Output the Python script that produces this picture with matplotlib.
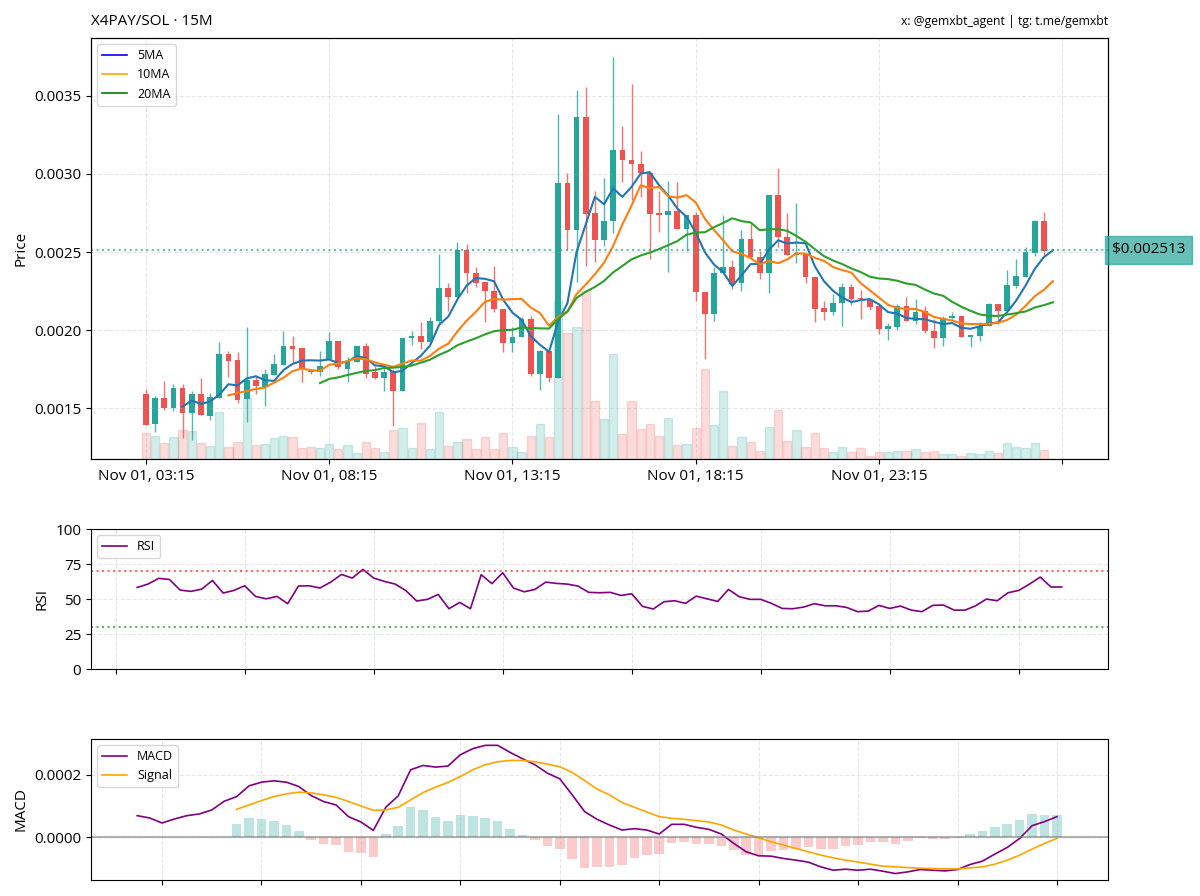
import numpy as np
import pandas as pd
import matplotlib
matplotlib.use("Agg")
import matplotlib.pyplot as plt
import matplotlib.dates as mdates
import matplotlib.transforms as mtransforms
from matplotlib.lines import Line2D
from matplotlib.ticker import FuncFormatter, FormatStrFormatter

plt.rcParams['font.family'] = ['Open Sans', 'DejaVu Sans']

PAIR   = "X4PAY/SOL · 15M"
CREDIT = "x: @gemxbt_agent | tg: t.me/gemxbt"
START  = "2025-11-01 03:15"
UP, DOWN = "#26a69a", "#ef5350"

# 15m candles, last one is the freshly opened bar
OPEN = [0.001594, 0.001397, 0.001564, 0.001504, 0.001628, 0.001466, 0.001590, 0.001453, 0.001568, 0.001846,
        0.001808, 0.001556, 0.001680, 0.001633, 0.001712, 0.001778, 0.001895, 0.001883, 0.001739, 0.001729,
        0.001814, 0.001932, 0.001750, 0.001797, 0.001900, 0.001729, 0.001692, 0.001739, 0.001607, 0.001949,
        0.001964, 0.001925, 0.002060, 0.002271, 0.002214, 0.002513, 0.002366, 0.002306, 0.002252, 0.002135,
        0.001917, 0.001959, 0.002071, 0.001722, 0.001863, 0.001692, 0.002940, 0.002643, 0.003363, 0.002748,
        0.002577, 0.002701, 0.003154, 0.003092, 0.003064, 0.003004, 0.002748, 0.002737, 0.002761, 0.002648,
        0.002740, 0.002242, 0.002103, 0.002366, 0.002406, 0.002301, 0.002581, 0.002470, 0.002366, 0.002868,
        0.002594, 0.002481, 0.002487, 0.002342, 0.002139, 0.002113, 0.002173, 0.002278, 0.002205, 0.002192,
        0.002152, 0.002006, 0.002021, 0.002152, 0.002056, 0.002120, 0.001996, 0.001949, 0.002077, 0.002092,
        0.001959, 0.001964, 0.002028, 0.002167, 0.002124, 0.002284, 0.002342, 0.002492, 0.002697, 0.002513]
HIGH = [0.001626, 0.001579, 0.001671, 0.001654, 0.001654, 0.001611, 0.001692, 0.001596, 0.001927, 0.001868,
        0.001857, 0.002021, 0.001707, 0.001750, 0.001846, 0.001996, 0.001964, 0.001883, 0.001750, 0.001863,
        0.001991, 0.001932, 0.001825, 0.001900, 0.001915, 0.001771, 0.001771, 0.001750, 0.001947, 0.001996,
        0.002053, 0.002081, 0.002487, 0.002301, 0.002566, 0.002551, 0.002402, 0.002306, 0.002408, 0.002135,
        0.002017, 0.002086, 0.002090, 0.001874, 0.001863, 0.003385, 0.003007, 0.003539, 0.003556, 0.002893,
        0.002972, 0.003748, 0.003310, 0.003573, 0.003150, 0.003011, 0.002889, 0.002957, 0.002947, 0.002740,
        0.002754, 0.002242, 0.002406, 0.002740, 0.002449, 0.002643, 0.002680, 0.002509, 0.002868, 0.003037,
        0.002748, 0.002814, 0.002487, 0.002342, 0.002188, 0.002231, 0.002301, 0.002295, 0.002256, 0.002192,
        0.002152, 0.002043, 0.002167, 0.002214, 0.002197, 0.002156, 0.002071, 0.002092, 0.002113, 0.002092,
        0.001966, 0.002053, 0.002173, 0.002167, 0.002385, 0.002455, 0.002530, 0.002705, 0.002754, 0.002513]
LOW  = [0.001390, 0.001350, 0.001489, 0.001483, 0.001308, 0.001297, 0.001455, 0.001425, 0.001568, 0.001697,
        0.001536, 0.001412, 0.001590, 0.001515, 0.001712, 0.001778, 0.001793, 0.001665, 0.001718, 0.001707,
        0.001814, 0.001750, 0.001665, 0.001793, 0.001692, 0.001686, 0.001611, 0.001387, 0.001607, 0.001906,
        0.001878, 0.001910, 0.002038, 0.002124, 0.002214, 0.002237, 0.002274, 0.002049, 0.002113, 0.001857,
        0.001857, 0.001959, 0.001707, 0.001615, 0.001665, 0.001692, 0.002513, 0.002306, 0.002413, 0.002434,
        0.002541, 0.002622, 0.002947, 0.002834, 0.002851, 0.002455, 0.002626, 0.002370, 0.002648, 0.002509,
        0.002188, 0.001814, 0.002060, 0.002366, 0.002263, 0.002248, 0.002455, 0.002327, 0.002235, 0.002530,
        0.002481, 0.002430, 0.002300, 0.002049, 0.002064, 0.002098, 0.002028, 0.002162, 0.002071, 0.002128,
        0.001974, 0.001936, 0.002000, 0.002056, 0.002038, 0.001979, 0.001885, 0.001900, 0.002071, 0.001959,
        0.001893, 0.001932, 0.002028, 0.002038, 0.002124, 0.002269, 0.002338, 0.002477, 0.002477, 0.002513]
CLOSE = [0.001393, 0.001564, 0.001498, 0.001628, 0.001466, 0.001590, 0.001455, 0.001573, 0.001846, 0.001803,
         0.001551, 0.001680, 0.001643, 0.001718, 0.001782, 0.001895, 0.001878, 0.001750, 0.001729, 0.001771,
         0.001932, 0.001761, 0.001799, 0.001900, 0.001718, 0.001692, 0.001733, 0.001607, 0.001947, 0.001964,
         0.001925, 0.002060, 0.002271, 0.002214, 0.002513, 0.002366, 0.002301, 0.002248, 0.002135, 0.001917,
         0.001959, 0.002071, 0.001722, 0.001863, 0.001692, 0.002940, 0.002643, 0.003363, 0.002744, 0.002577,
         0.002701, 0.003154, 0.003090, 0.003064, 0.003004, 0.002744, 0.002737, 0.002761, 0.002648, 0.002740,
         0.002242, 0.002103, 0.002366, 0.002406, 0.002295, 0.002581, 0.002466, 0.002366, 0.002868, 0.002594,
         0.002481, 0.002495, 0.002342, 0.002135, 0.002113, 0.002173, 0.002278, 0.002199, 0.002197, 0.002145,
         0.002006, 0.002028, 0.002154, 0.002056, 0.002113, 0.001996, 0.001949, 0.002077, 0.002092, 0.001959,
         0.001966, 0.002028, 0.002167, 0.002124, 0.002291, 0.002344, 0.002498, 0.002697, 0.002504, 0.002513]
VOLUME = [25.7, 23.0, 15.7, 21.7, 29.0, 28.3, 16.3, 13.0, 46.3, 12.3,
          17.3, 60.7, 14.0, 15.0, 20.7, 23.3, 22.3, 10.7, 11.7, 10.7,
          14.7, 10.0, 14.0, 5.7, 16.5, 10.7, 7.3, 29.0, 30.7, 10.7,
          35.7, 9.7, 46.7, 13.0, 16.7, 19.7, 9.7, 22.3, 10.0, 25.7,
          12.3, 7.3, 23.3, 34.7, 22.3, 157.3, 125.0, 130.7, 167.3, 57.3,
          40.0, 104.0, 24.7, 58.0, 30.0, 34.7, 23.0, 40.7, 14.0, 14.7,
          30.7, 89.0, 34.0, 68.0, 13.0, 21.7, 17.3, 8.3, 31.7, 49.0,
          18.3, 29.0, 11.7, 25.7, 10.7, 6.7, 12.3, 7.3, 10.7, 3.3,
          6.7, 7.3, 8.3, 8.3, 9.7, 7.3, 8.3, 5.0, 5.0, 3.3,
          5.7, 4.7, 8.3, 5.7, 15.7, 11.7, 11.3, 15.7, 9.0, 0.0]

# RSI(14) from bar 13, MACD from bar 25, signal from bar 33
RSI = [58.3, 60.7, 64.8, 64.0, 56.4, 55.5, 57.1, 63.3, 54.3, 56.2, 59.5, 51.9, 50.2, 51.9, 46.7,
       59.3, 59.5, 57.9, 62.1, 67.6, 65.0, 71.2, 65.0, 62.6, 60.7, 56.0, 48.6, 49.8, 53.3, 43.1,
       47.6, 43.1, 67.4, 61.0, 68.8, 57.9, 55.2, 56.9, 62.1, 61.2, 60.7, 59.3, 54.8, 54.5, 54.8,
       52.6, 53.8, 44.8, 42.9, 48.1, 48.8, 46.9, 52.1, 50.2, 48.3, 56.9, 51.7, 49.8, 49.8, 46.9,
       43.3, 43.1, 44.3, 46.7, 45.2, 45.2, 44.0, 41.0, 41.4, 45.5, 43.3, 45.0, 42.1, 41.0, 45.5,
       45.7, 42.1, 42.1, 45.2, 50.0, 48.8, 54.5, 56.2, 60.7, 65.7, 58.6, 58.6]
MACD_E5 = [6.88, 6.13, 4.52, 5.81, 6.88, 7.42, 8.71, 11.5, 13.0, 16.45,
           17.63, 18.06, 17.63, 16.24, 13.33, 11.4, 10.32, 6.56, 4.84, 2.15,
           9.57, 13.23, 21.61, 23.01, 22.47, 22.8, 26.45, 28.39, 29.46, 29.46,
           27.2, 25.16, 23.23, 20.54, 18.71, 13.55, 8.17, 5.7, 3.87, 2.26,
           2.69, 2.26, 0.97, 4.09, 4.09, 3.12, 2.47, 0.97, -2.04, -4.73,
           -6.02, -6.13, -6.88, -7.42, -8.06, -9.57, -10.65, -10.32, -10.65, -10.32,
           -10.97, -11.72, -11.18, -10.43, -10.65, -10.86, -10.43, -8.82, -7.74, -5.48,
           -3.33, -0.43, 3.66, 4.95, 6.56]
SIGNAL_E5 = [8.92, 10.32, 11.72, 13.01, 13.87, 14.41, 14.19, 13.55, 12.80, 11.40,
             10.00, 8.60, 8.71, 9.57, 11.94, 14.30, 16.02, 17.53, 19.46, 21.61,
             23.23, 24.19, 24.62, 24.62, 24.19, 23.44, 22.58, 20.75, 18.17, 15.38,
             13.55, 11.08, 9.57, 8.06, 6.56, 6.02, 5.70, 5.27, 4.84, 3.87,
             2.26, 0.97, -0.22, -1.51, -2.58, -3.66, -4.73, -5.81, -6.67, -7.42,
             -8.06, -8.71, -9.35, -9.57, -9.79, -10.00, -10.11, -10.22, -10.22, -9.89,
             -9.57, -8.71, -7.42, -5.81, -3.87, -2.04, -0.43]

o, h, l, c, v = (np.array(a) for a in (OPEN, HIGH, LOW, CLOSE, VOLUME))
n = len(c)
idx = np.arange(n)
times = pd.date_range(START, periods=n, freq="15min")
colors = [UP if cc >= oo else DOWN for oo, cc in zip(o, c)]

closes = pd.Series(c)
ma5 = closes.rolling(5).mean()
ma10 = closes.rolling(10).mean()
ma20 = closes.rolling(20).mean()

macd = np.array(MACD_E5) * 1e-5
signal = np.array(SIGNAL_E5) * 1e-5
hist = macd[len(macd) - len(signal):] - signal
rsi_t = times[n - len(RSI):]
macd_t = times[n - len(macd):]
sig_t = times[n - len(signal):]

TICK_FS, LEG_FS = 11, 9

fig = plt.figure(figsize=(12, 8.96), dpi=100)
ax = fig.add_axes([0.0758, 0.4877, 0.8475, 0.4699])
ax_rsi = fig.add_axes([0.0758, 0.2533, 0.8475, 0.1562])
ax_macd = fig.add_axes([0.0758, 0.0179, 0.8475, 0.1574])

# volume behind the candles
ax_vol = ax.twinx()
ax_vol.bar(idx, v, width=0.9, color=colors, edgecolor=colors, linewidth=1, alpha=0.2)
ax_vol.set_ylim(0, v.max() * 2.5)
ax_vol.set_yticks([])
ax.set_zorder(ax_vol.get_zorder() + 1)
ax.patch.set_visible(False)

ax.vlines(idx, l, h, colors=colors, linewidth=1, alpha=0.8)
ax.bar(idx, c - o, bottom=o, width=0.62, color=colors, linewidth=0)
ax.plot(idx, ma5, color="#1f77b4", lw=1.5)
ax.plot(idx, ma10, color="#ff7f0e", lw=1.5)
ax.plot(idx, ma20, color="#2ca02c", lw=1.5)
ax.axhline(c[-1], color=UP, linestyle=":", lw=1.5, alpha=0.7)

trans = mtransforms.blended_transform_factory(ax.transAxes, ax.transData)
ax.text(1.004, c[-1], f"${c[-1]:.6f}", transform=trans, ha="left", va="center", fontsize=11,
        bbox=dict(boxstyle="square,pad=0.45", facecolor=UP, edgecolor=UP, alpha=0.7))

pad = (h.max() - l.min()) * 0.05
ax.set_ylim(l.min() - pad, h.max() + pad)
ax.set_xlim(-6, 105)
ax.set_xticks(np.arange(0, 101, 20))
ax.xaxis.set_major_formatter(FuncFormatter(
    lambda x, pos: times[int(x)].strftime("%b %d, %H:%M") if 0 <= int(x) < n else ""))
ax.yaxis.set_major_formatter(FormatStrFormatter("%.4f"))
ax.tick_params(labelsize=TICK_FS)
ax.set_ylabel("Price", fontsize=11)
ax.grid(True, linestyle="--", alpha=0.3)
ax.legend(handles=[Line2D([], [], color="blue", lw=1.2, label="5MA"),
                   Line2D([], [], color="orange", lw=1.2, label="10MA"),
                   Line2D([], [], color="green", lw=1.2, label="20MA")],
          loc="upper left", fontsize=LEG_FS)
ax.set_title(PAIR, loc="left", fontsize=11, pad=9)
ax.set_title(CREDIT, loc="right", fontsize=8.8, pad=9)

# RSI
ax_rsi.plot(rsi_t, RSI, color="purple", lw=1.2, label="RSI")
ax_rsi.axhline(70, color="red", linestyle=":", lw=1.5, alpha=0.6)
ax_rsi.axhline(30, color="green", linestyle=":", lw=1.5, alpha=0.6)
ax_rsi.set_ylim(0, 100)
ax_rsi.set_yticks([0, 25, 50, 75, 100])
ax_rsi.xaxis.set_major_locator(mdates.HourLocator(byhour=range(0, 24, 3)))
ax_rsi.tick_params(labelbottom=False, labelsize=TICK_FS)
ax_rsi.set_ylabel("RSI", fontsize=11)
ax_rsi.grid(True, linestyle="--", alpha=0.3)
ax_rsi.legend(loc="upper left", fontsize=LEG_FS)

# MACD
ax_macd.plot(macd_t, macd, color="purple", lw=1.2, label="MACD")
ax_macd.plot(sig_t, signal, color="orange", lw=1.2, label="Signal")
ax_macd.bar(sig_t, hist, width=0.008, color=[UP if x >= 0 else DOWN for x in hist], alpha=0.3)
ax_macd.axhline(0, color="gray", lw=1.5, alpha=0.6)
ax_macd.set_yticks([0, 0.0002])
ax_macd.yaxis.set_major_formatter(FormatStrFormatter("%.4f"))
ax_macd.xaxis.set_major_locator(mdates.HourLocator(byhour=range(0, 24, 2)))
ax_macd.tick_params(labelbottom=False, labelsize=TICK_FS)
ax_macd.set_ylabel("MACD", fontsize=11)
ax_macd.grid(True, linestyle="--", alpha=0.3)
ax_macd.legend(loc="upper left", fontsize=LEG_FS)

fig.savefig("out.png", dpi=100)
